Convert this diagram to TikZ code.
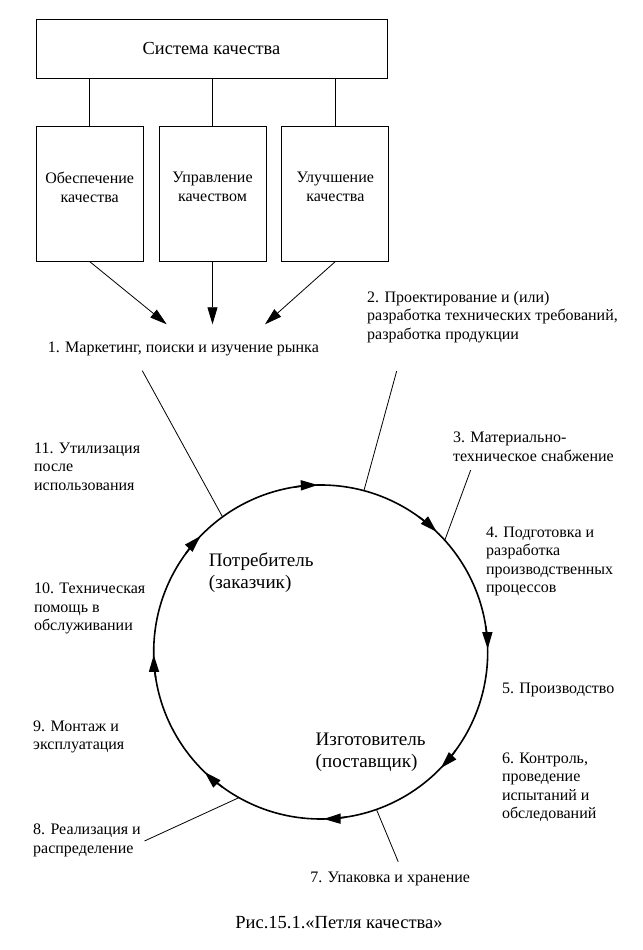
\documentclass[tikz,border=0pt]{standalone}
\usepackage{fontspec}
\setmainfont{Liberation Serif}
\usetikzlibrary{
  arrows.meta,
  positioning
}

\begin{document}
\begin{tikzpicture}[
  x=0.5pt, y=0.5pt,
  box/.style = {draw, align=center, inner sep=0pt,
    minimum width=53.5pt, minimum height=67.2pt, text depth=7pt,
    font=\fontsize{8}{9.5}\selectfont},
  stage/.style = {anchor=west, align=left, inner sep=0pt,
    font=\fontsize{8}{9.25}\selectfont},
  side/.style = {anchor=west, align=left, inner sep=0pt,
    font=\fontsize{9.55}{11}\selectfont},
  feed/.style = {-{Triangle[length=8.5pt,width=5pt]}},
  ring/.style = {line width=0.8pt}]
  \useasboundingbox (0,0) rectangle (643,950);
  \node[draw, minimum width=175.5pt, minimum height=29.7pt,
    font=\fontsize{9.2}{11}\selectfont] (sys) at (211.5,901) {Система качества};
  \node[box] (ens) at (89.7,756) {Обеспечение\\качества};
  \node[box, right=7.5pt of ens] (man) {Управление\\качеством};
  \node[box, right=7.5pt of man] (imp) {Улучшение\\качества};
  \foreach \b in {ens,man,imp}
    \draw (\b.north) -- (\b.north |- sys.south);
  \coordinate (t1) at (166.7,625.7);
  \coordinate (t3) at (265,625.7);
  \draw[feed] (ens.south) -- (t1);
  \draw[feed] (man.south) -- (man.south |- t1);
  \draw[feed] (imp.south) -- (t3);

  \node[stage] (m1) at (47.5,600.7) {1. Маркетинг, поиски и изучение рынка};
  \node[stage] (m2) at (366.8,633) {2. Проектирование и (или)\\разработка технических требований,\\разработка продукции};
  \node[stage] (m3) at (452.7,503.3) {3. Материально-\\техническое снабжение};
  \node[stage] (m4) at (485.7,388.5) {4. Подготовка и\\разработка\\производственных\\процессов};
  \node[stage] (m5) at (501.6,260) {5. Производство};
  \node[stage] (m6) at (501.6,163) {6. Контроль,\\проведение\\испытаний и\\обследований};
  \node[stage] (m7) at (310,71) {7. Упаковка и хранение};
  \node[stage] (m8) at (32.8,109.5) {8. Реализация и\\распределение};
  \node[stage] (m9) at (32.8,213.3) {9. Монтаж и\\эксплуатация};
  \node[stage] (m10) at (33.7,341.5) {10. Техническая\\помощь в\\обслуживании};
  \node[stage] (m11) at (33.7,483.3) {11. Утилизация\\после\\использования};
  \node[side] (cons) at (208.5,377) {Потребитель\\(заказчик)};
  \node[side] (prod) at (315.3,198) {Изготовитель\\(поставщик)};
  \node[font=\fontsize{9.25}{10}\selectfont] (cap) at (339,27.3) {Рис.15.1.«Петля качества»};

  % loop
  \coordinate (c) at (320.7,298);
  \draw[ring] (c) circle[radius=83.5pt];
  \foreach \a in {91,46,1,-44,-89,-134,-179,-224}
    \draw[ring, feed] (c) ++(\a+8:83.5pt) arc[start angle=\a+8, end angle=\a, radius=83.5pt];
  \foreach \n/\x/\y/\a in {1/142.3/579.3/126, 2/396.7/579/75, 3/470.7/480/42,
      7/398.2/88.3/-70.5, 8/144.5/109/-119.3} {
    \coordinate (a\n) at (\x,\y);
    \coordinate (r\n) at ([shift={(\a:83.5pt)}]c);
    \draw (a\n) -- (r\n);
  }
\end{tikzpicture}
\end{document}
